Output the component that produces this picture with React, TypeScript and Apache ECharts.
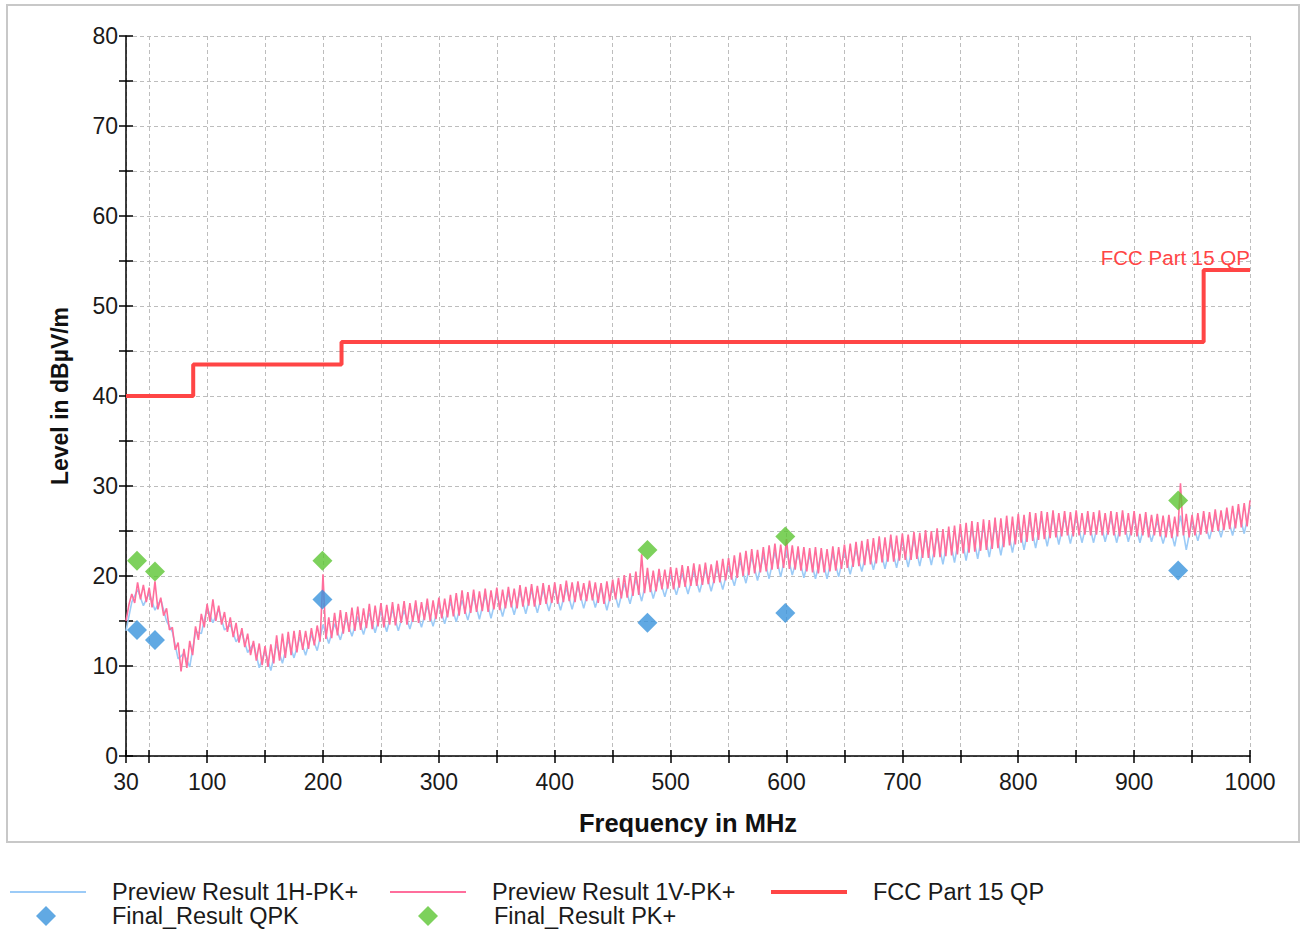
import React, { useEffect, useRef } from 'react';
import * as echarts from 'echarts';

// Sweep sampling grids (MHz)
const SWEEP_START_MHZ = 30;
const STEP_1H_MHZ = 5;
const STEP_1V_MHZ = 2.5;

// Preview Result 1H-PK+ (dBµV/m), one value per 5 MHz step from 30 MHz
const PREVIEW_1H = [
  13.9, 17.1, 18.5, 16.7, 18.1, 16.2, 17.4, 15.0, 13.8, 10.8,
  11.4, 9.9, 13.8, 13.6, 16.5, 14.8, 16.3, 14.0, 14.6, 12.7,
  13.7, 11.5, 12.5, 9.8, 11.7, 9.5, 12.4, 10.3, 12.9, 10.9,
  13.2, 11.2, 13.5, 11.7, 14.6, 12.5, 14.7, 12.9, 15.3, 13.3,
  15.5, 13.5, 15.9, 13.7, 16.1, 13.8, 16.3, 13.9, 16.2, 14.1,
  16.5, 14.3, 16.7, 14.4, 16.9, 14.7, 17.1, 14.9, 17.3, 15.1,
  17.7, 15.2, 17.9, 15.3, 18.0, 15.5, 18.1, 15.7, 18.3, 15.8,
  18.4, 15.9, 18.5, 16.1, 18.6, 16.2, 18.7, 16.3, 18.9, 16.4,
  19.0, 16.5, 18.8, 16.2, 18.9, 16.5, 19.2, 16.9, 19.7, 17.2,
  20.1, 17.5, 19.9, 17.7, 20.1, 17.9, 20.3, 18.0, 20.5, 18.2,
  20.7, 18.3, 20.9, 18.5, 21.1, 18.9, 21.7, 19.2, 22.1, 19.5,
  22.3, 19.7, 22.7, 19.9, 22.9, 20.1, 22.5, 19.8, 22.3, 19.7,
  22.4, 19.7, 22.5, 19.9, 22.7, 20.2, 22.9, 20.5, 23.3, 20.7,
  23.5, 20.8, 23.7, 20.9, 23.9, 21.0, 24.1, 21.1, 24.3, 21.2,
  24.5, 21.3, 24.8, 21.5, 25.1, 21.7, 25.3, 21.9, 25.5, 22.1,
  25.7, 22.3, 25.9, 22.6, 26.1, 22.9, 26.3, 23.1, 26.5, 23.3,
  26.6, 23.5, 26.5, 23.6, 26.6, 23.7, 26.5, 23.7, 26.6, 23.8,
  26.5, 23.7, 26.6, 23.8, 26.4, 23.7, 26.3, 23.8, 26.1, 23.6,
  26.0, 23.3, 26.7, 22.9, 26.2, 23.9, 26.5, 24.1, 26.7, 24.3,
  26.9, 24.5, 27.3, 24.7, 27.7,
];

// Preview Result 1V-PK+ (dBµV/m), one value per 2.5 MHz step from 30 MHz
const PREVIEW_1V = [
  15.0, 16.8, 18.0, 17.0, 19.3, 17.4, 19.0, 17.1, 18.7, 16.5, 19.4, 16.3, 17.6, 15.6, 16.4, 14.0, 14.3, 11.8, 12.6, 9.4,
  11.9, 9.8, 12.8, 11.2, 14.4, 12.9, 15.8, 14.3, 16.9, 14.9, 17.4, 15.0, 16.7, 14.6, 16.0, 13.8, 15.4, 13.2, 14.8, 12.6,
  14.2, 12.1, 13.6, 11.2, 12.8, 10.6, 12.5, 10.1, 12.2, 9.9, 12.4, 10.3, 13.4, 10.6, 13.6, 10.9, 13.8, 11.2, 13.9, 11.5,
  14.0, 11.8, 13.9, 11.9, 14.2, 12.3, 14.5, 12.7, 20.2, 13.0, 15.4, 13.1, 15.9, 13.4, 16.2, 13.6, 16.0, 13.8, 16.5, 13.9,
  16.6, 14.0, 16.4, 14.2, 16.9, 14.1, 16.7, 14.4, 17.0, 14.3, 16.8, 14.6, 17.1, 14.5, 16.9, 14.8, 17.2, 14.6, 17.0, 14.9,
  17.3, 14.8, 17.1, 15.1, 17.5, 15.0, 17.3, 15.2, 17.6, 15.3, 17.5, 15.4, 17.9, 15.5, 18.1, 15.6, 18.4, 15.8, 18.2, 15.9,
  18.5, 16.0, 18.3, 16.1, 18.6, 16.0, 18.4, 16.3, 18.7, 16.2, 18.5, 16.4, 18.8, 16.5, 18.6, 16.4, 19.0, 16.6, 18.8, 16.7,
  19.1, 16.6, 18.9, 16.8, 19.2, 16.9, 19.0, 17.0, 19.3, 16.9, 19.1, 17.1, 19.5, 17.2, 19.3, 17.1, 19.4, 17.3, 19.2, 17.2,
  19.5, 17.3, 19.3, 17.0, 19.2, 16.9, 19.4, 17.2, 19.6, 17.4, 19.8, 17.5, 20.1, 17.6, 20.3, 17.8, 20.5, 17.9, 22.4, 18.1,
  20.9, 18.2, 20.6, 18.3, 20.8, 18.5, 20.7, 18.6, 21.0, 18.5, 20.9, 18.7, 21.2, 18.8, 21.1, 18.9, 21.4, 18.9, 21.3, 19.0,
  21.5, 19.1, 21.3, 19.2, 21.7, 19.3, 21.9, 19.5, 22.0, 19.6, 22.3, 19.8, 22.6, 20.0, 22.8, 20.1, 23.0, 20.3, 22.9, 20.4,
  23.2, 20.5, 23.4, 20.7, 23.6, 20.8, 23.5, 20.9, 24.1, 20.8, 23.4, 20.7, 23.3, 20.6, 23.2, 20.5, 23.1, 20.4, 23.2, 20.3,
  23.1, 20.4, 23.0, 20.5, 23.3, 20.6, 23.2, 20.8, 23.5, 20.9, 23.6, 21.0, 23.8, 21.1, 23.9, 21.2, 24.1, 21.3, 24.2, 21.4,
  24.4, 21.5, 24.3, 21.6, 24.6, 21.6, 24.5, 21.7, 24.7, 21.8, 24.6, 21.8, 24.9, 21.9, 24.8, 22.0, 25.1, 22.0, 25.0, 22.1,
  25.3, 22.1, 25.2, 22.2, 25.5, 22.3, 25.6, 22.4, 25.8, 22.5, 25.9, 22.6, 26.1, 22.7, 26.0, 22.8, 26.3, 22.9, 26.2, 23.0,
  26.5, 23.1, 26.4, 23.2, 26.7, 23.4, 26.6, 23.5, 26.9, 23.7, 26.8, 23.8, 27.1, 23.9, 27.0, 24.0, 27.2, 24.1, 27.1, 24.2,
  27.3, 24.3, 27.0, 24.4, 27.2, 24.5, 27.1, 24.4, 27.3, 24.5, 27.0, 24.6, 27.2, 24.5, 27.1, 24.6, 27.3, 24.5, 27.0, 24.6,
  27.2, 24.5, 27.1, 24.4, 27.3, 24.6, 27.0, 24.5, 27.2, 24.4, 26.9, 24.5, 27.1, 24.3, 26.8, 24.5, 26.9, 24.4, 26.7, 24.3,
  26.8, 24.2, 26.6, 24.4, 30.3, 24.5, 26.9, 24.3, 26.8, 24.5, 27.0, 24.6, 27.2, 24.7, 27.1, 24.9, 27.4, 25.0, 27.3, 25.1,
  27.6, 25.2, 27.8, 25.3, 28.0, 25.4, 28.1, 25.5, 28.4,
];

// FCC Part 15 QP limit (step line)
const LIMIT_FREQ = [30, 88, 88, 216, 216, 960, 960, 1000];
const LIMIT_LEVEL = [40, 40, 43.5, 43.5, 46, 46, 54, 54];

// Final measurements
const FINAL_FREQ = [39.5, 55, 199.5, 480, 599, 938];
const FINAL_QPK = [14.0, 12.9, 17.4, 14.8, 15.9, 20.6];
const FINAL_PK = [21.7, 20.5, 21.7, 22.9, 24.4, 28.4];

// Axis ticks
const X_LABEL_VALUES = [30, 100, 200, 300, 400, 500, 600, 700, 800, 900, 1000];
const X_TICK_VALUES = [30, 50, 100, 150, 200, 250, 300, 350, 400, 450, 500, 550, 600, 650, 700, 750, 800, 850, 900, 950, 1000];

const FONT = "'Liberation Sans', Arial, Helvetica, sans-serif";
const TEXT_COLOR = '#1a1a1a';
const C_1H = '#9ccbf7';
const C_1V = '#ff6e9c';
const C_LIMIT = '#ff4545';
const C_QPK = '#3a93dc';
const C_PK = '#5cc633';

export default function App() {
  const ref = useRef<HTMLDivElement>(null);

  useEffect(() => {
    if (!ref.current) return;
    const chart = echarts.init(ref.current, null, { renderer: 'svg' });

    const sweep = (vals: number[], step: number) => vals.map((v, i) => [SWEEP_START_MHZ + i * step, v]);
    const limitData = LIMIT_FREQ.map((f, i) => [f, LIMIT_LEVEL[i]]);
    const qpkData = FINAL_FREQ.map((f, i) => [f, FINAL_QPK[i]]);
    const pkData = FINAL_FREQ.map((f, i) => [f, FINAL_PK[i]]);

    const tickStyle = { color: '#000', width: 1.5 };
    const gridLine = { show: true, lineStyle: { color: '#bdbdbd', width: 1, type: [4, 3] } };

    const legendText = { fontSize: 23.5, color: TEXT_COLOR, fontFamily: FONT, padding: [0, 0, 0, 21] };
    const legendBase = {
      orient: 'horizontal',
      padding: 0,
      itemWidth: 76,
      itemHeight: 14,
      selectedMode: false,
      textStyle: legendText,
    };
    const diamondLegend = {
      ...legendBase,
      itemWidth: 20,
      itemHeight: 20,
      textStyle: { ...legendText, padding: [0, 0, 0, 51] },
    };

    chart.setOption({
      animation: false,
      backgroundColor: '#ffffff',
      textStyle: { fontFamily: FONT },
      graphic: [
        {
          type: 'rect',
          silent: true,
          z: -10,
          shape: { x: 7, y: 5, width: 1292, height: 837 },
          style: { fill: 'none', stroke: '#c8c8c8', lineWidth: 2 },
        },
      ],
      grid: { left: 126, right: 53, top: 36, bottom: 176, outerBoundsMode: 'none' },
      xAxis: [
        {
          type: 'value',
          min: 30,
          max: 1000,
          position: 'bottom',
          name: 'Frequency in MHz',
          nameLocation: 'middle',
          nameGap: 54,
          nameTextStyle: { fontSize: 25.5, fontWeight: 'bold', color: '#111', fontFamily: FONT },
          axisLine: { show: true, onZero: false, lineStyle: tickStyle },
          axisTick: { show: true, inside: false, length: 7, customValues: X_TICK_VALUES, lineStyle: tickStyle },
          axisLabel: {
            customValues: X_LABEL_VALUES,
            margin: 14,
            fontSize: 23,
            color: TEXT_COLOR,
            fontFamily: FONT,
            formatter: (v: number) => String(v),
          },
          splitLine: gridLine,
        },
        {
          type: 'value',
          min: 30,
          max: 1000,
          position: 'bottom',
          axisLine: { show: false, onZero: false },
          axisTick: { show: true, inside: true, length: 6, customValues: X_TICK_VALUES, lineStyle: tickStyle },
          axisLabel: { show: false },
          splitLine: { show: false },
        },
      ],
      yAxis: [
        {
          type: 'value',
          min: 0,
          max: 80,
          interval: 5,
          position: 'left',
          name: 'Level in dBµV/m',
          nameLocation: 'middle',
          nameRotate: 90,
          nameGap: 55,
          nameTextStyle: { fontSize: 23, fontWeight: 'bold', color: '#111', fontFamily: FONT },
          axisLine: { show: true, onZero: false, lineStyle: tickStyle },
          axisTick: { show: true, inside: false, length: 7, lineStyle: tickStyle },
          axisLabel: {
            margin: 8,
            fontSize: 23,
            color: TEXT_COLOR,
            fontFamily: FONT,
            formatter: (v: number) => (v % 10 === 0 ? String(v) : ''),
          },
          splitLine: gridLine,
        },
        {
          type: 'value',
          min: 0,
          max: 80,
          interval: 5,
          position: 'left',
          axisLine: { show: false, onZero: false },
          axisTick: { show: true, inside: true, length: 7, lineStyle: tickStyle },
          axisLabel: { show: false },
          splitLine: { show: false },
        },
      ],
      legend: [
        { ...legendBase, left: 10, top: 880, itemHeight: 2, data: [{ name: 'Preview Result 1H-PK+', icon: 'rect' }] },
        { ...legendBase, left: 390, top: 880, itemHeight: 2, data: [{ name: 'Preview Result 1V-PK+', icon: 'rect' }] },
        { ...legendBase, left: 771, top: 880, itemHeight: 4, data: [{ name: 'FCC Part 15 QP', icon: 'rect' }] },
        { ...diamondLegend, left: 36, top: 904, data: [{ name: 'Final_Result QPK', icon: 'diamond' }] },
        { ...diamondLegend, left: 418, top: 904, data: [{ name: 'Final_Result PK+', icon: 'diamond' }] },
      ],
      series: [
        {
          name: 'Preview Result 1H-PK+',
          type: 'line',
          xAxisIndex: 0,
          yAxisIndex: 0,
          data: sweep(PREVIEW_1H, STEP_1H_MHZ),
          symbol: 'none',
          lineStyle: { color: C_1H, width: 1.6 },
          itemStyle: { color: C_1H },
          z: 2,
        },
        {
          name: 'Preview Result 1V-PK+',
          type: 'line',
          xAxisIndex: 0,
          yAxisIndex: 0,
          data: sweep(PREVIEW_1V, STEP_1V_MHZ),
          symbol: 'none',
          lineStyle: { color: C_1V, width: 1.6 },
          itemStyle: { color: C_1V },
          z: 3,
        },
        {
          name: 'FCC Part 15 QP',
          type: 'line',
          xAxisIndex: 0,
          yAxisIndex: 0,
          data: limitData,
          symbol: 'none',
          lineStyle: { color: C_LIMIT, width: 4 },
          itemStyle: { color: C_LIMIT },
          z: 4,
          endLabel: {
            show: true,
            formatter: 'FCC Part 15 QP',
            color: C_LIMIT,
            fontSize: 20.5,
            fontFamily: FONT,
            align: 'right',
            verticalAlign: 'bottom',
            distance: 0,
            offset: [0, -2],
          },
        },
        {
          name: 'Final_Result QPK',
          type: 'scatter',
          xAxisIndex: 0,
          yAxisIndex: 0,
          data: qpkData,
          symbol: 'diamond',
          symbolSize: 20,
          itemStyle: { color: C_QPK },
          z: 5,
        },
        {
          name: 'Final_Result PK+',
          type: 'scatter',
          xAxisIndex: 0,
          yAxisIndex: 0,
          data: pkData,
          symbol: 'diamond',
          symbolSize: 20,
          itemStyle: { color: C_PK },
          z: 5,
        },
      ],
    });

    return () => chart.dispose();
  }, []);

  return <div ref={ref} style={{ position: 'absolute', left: 0, top: 0, width: 1303, height: 932 }} />;
}
